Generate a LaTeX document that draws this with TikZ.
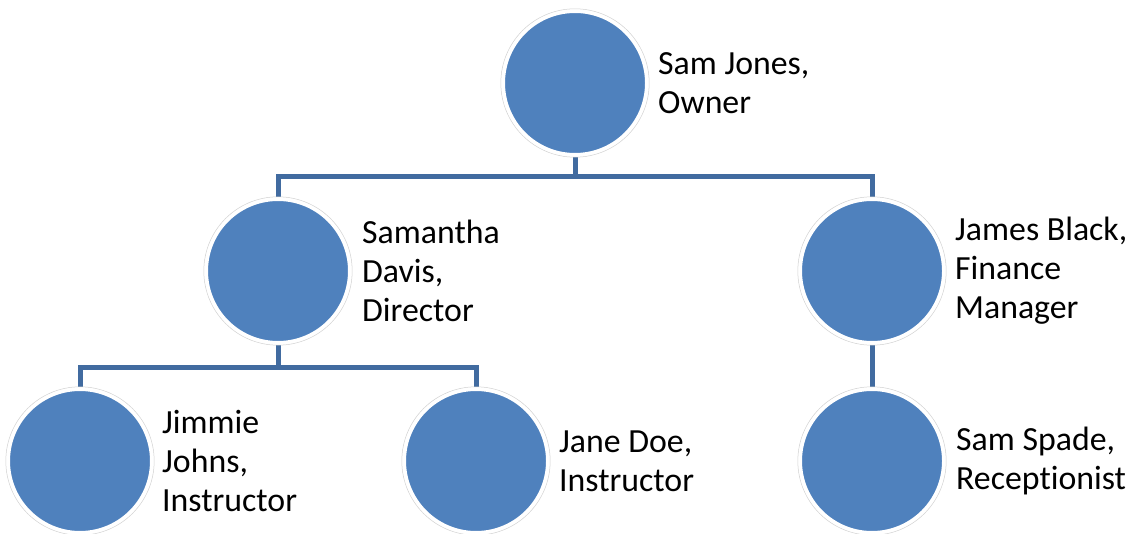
\documentclass[tikz,border=0pt]{standalone}
\usepackage{fontspec}
\setmainfont{Carlito}[RawFeature={-liga}]
\usetikzlibrary{backgrounds}
\definecolor{circblue}{RGB}{79,129,189}
\definecolor{connblue}{RGB}{65,107,160}
\tikzset{
  person/.style={circle, fill=circblue, draw=white, line width=4pt, minimum size=144pt, inner sep=0pt},
  halo/.style={draw=black!18, line width=0.5pt},
  lbl/.style={anchor=west, inner sep=0pt, align=left, font=\fontsize{33.8}{39}\selectfont, text=black},
  conn/.style={draw=connblue, line width=5pt}
}
\begin{document}
\begin{tikzpicture}[x=1pt,y=1pt]
\useasboundingbox (0,0) rectangle (1131,533);
% circles
\node[person] (sam) at (575,450) {};
\node[person] (samantha) at (278,262) {};
\node[person] (james) at (872,262) {};
\node[person] (jimmie) at (80,72) {};
\node[person] (jane) at (476,72) {};
\node[person] (spade) at (872,72) {};
\foreach \n in {sam,samantha,james,jimmie,jane,spade}
  \draw[halo] (\n.center) circle (74.2pt);
% labels
\node[lbl] (tsam) at ([xshift=83pt]sam.center) {Sam Jones,\\Owner};
\node[lbl] (tsamantha) at ([xshift=84pt]samantha.center) {Samantha\\Davis,\\Director};
\node[lbl] (tjames) at ([xshift=83pt]james.center) {James Black,\\Finance\\Manager};
\node[lbl] (tjimmie) at ([xshift=82pt]jimmie.center) {Jimmie\\Johns,\\Instructor};
\node[lbl] (tjane) at ([xshift=83pt]jane.center) {Jane Doe,\\Instructor};
\node[lbl] (tspade) at ([xshift=84pt]spade.center) {Sam Spade,\\Receptionist};
% connectors
\coordinate (bar1) at (0,356);
\coordinate (bar2) at (0,166);
\begin{scope}[on background layer]
\draw[conn] (sam.center) -- (sam.center |- bar1);
\draw[conn] (samantha.center) |- (sam.center |- bar1) -| (james.center);
\draw[conn] (samantha.center) -- (samantha.center |- bar2);
\draw[conn] (jimmie.center) |- (samantha.center |- bar2) -| (jane.center);
\draw[conn] (james.center) -- (spade.center);
\end{scope}
\end{tikzpicture}
\end{document}
